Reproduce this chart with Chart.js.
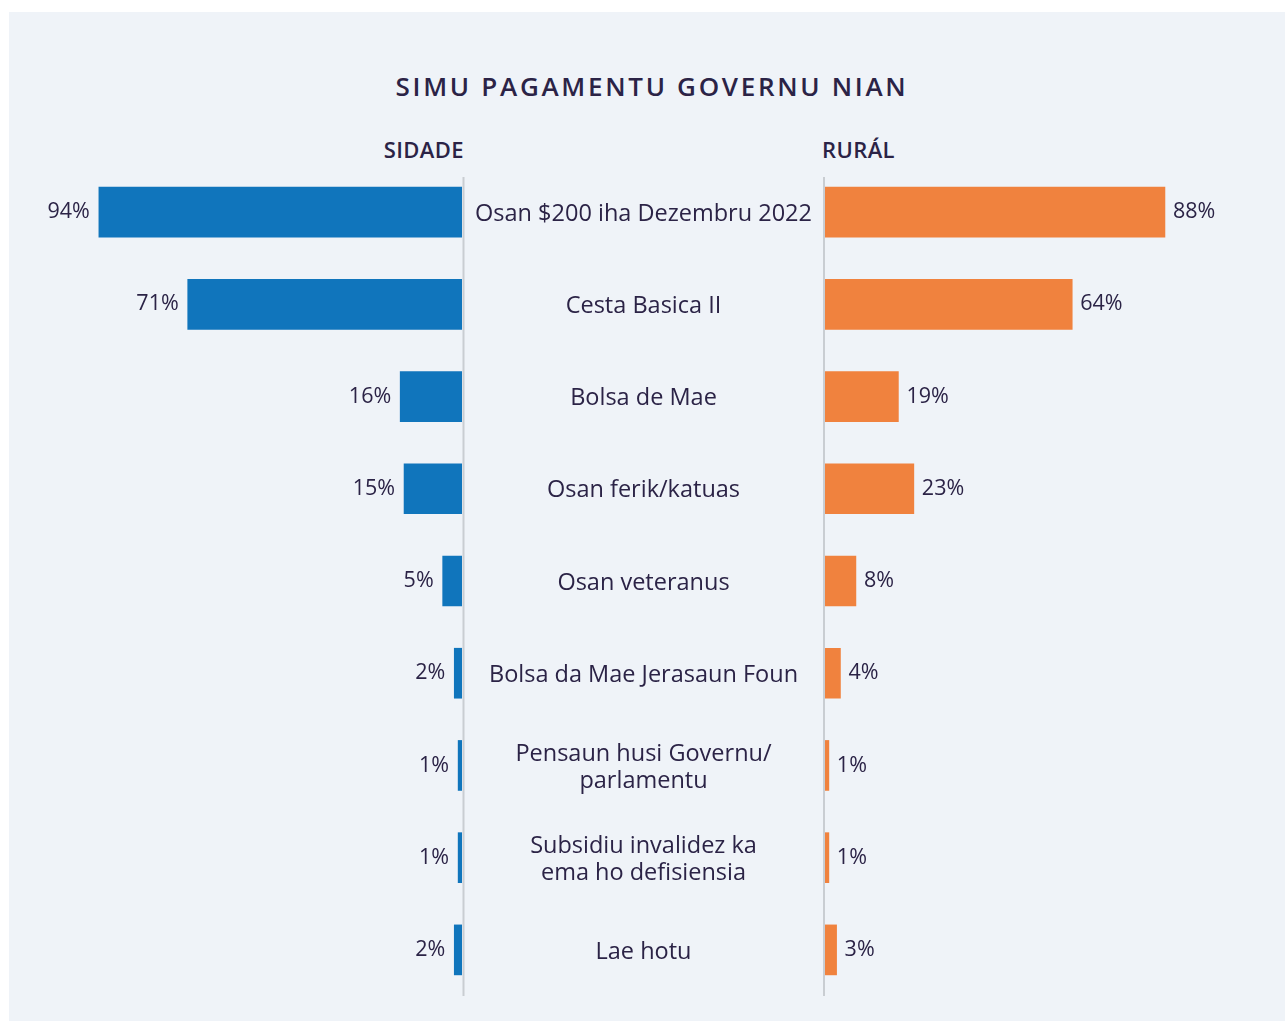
<!DOCTYPE html>
<html>
<head>
<meta charset="utf-8">
<script src="https://cdn.jsdelivr.net/npm/chart.js@4"></script>
<style>
  body { margin: 0; background: #ffffff; font-family: "Open Sans", sans-serif; color: #2b2346; }
  #page { position: relative; width: 1285px; height: 1024px; overflow: hidden; }
  #panel { position: absolute; left: 9px; top: 12px; width: 1276px; height: 1009px; background: #eff3f8; }
  .txt { position: absolute; white-space: nowrap; font-weight: 600; line-height: 1; }
  #title { left: 652px; top: 73px; transform: translateX(-50%); font-size: 26px; letter-spacing: 2.7px; }
  #hdrLeft { right: calc(1285px - 464px); top: 138px; font-size: 22px; letter-spacing: 0.4px; }
  #hdrRight { left: 822px; top: 138px; font-size: 22px; letter-spacing: 0.4px; }
  canvas { position: absolute; top: 0; }
  #leftChart { left: 0; }
  #rightChart { left: 823px; }
</style>
</head>
<body>
<div id="page">
  <div id="panel"></div>
  <div class="txt" id="title">SIMU PAGAMENTU GOVERNU NIAN</div>
  <div class="txt" id="hdrLeft">SIDADE</div>
  <div class="txt" id="hdrRight">RURÁL</div>
  <canvas id="leftChart" width="823" height="1024"></canvas>
  <canvas id="rightChart" width="462" height="1024"></canvas>
</div>
<script>
// kategoria pagamentu (label ho liña barak uza array)
const categories = [
  'Osan $200 iha Dezembru 2022',
  'Cesta Basica II',
  'Bolsa de Mae',
  'Osan ferik/katuas',
  'Osan veteranus',
  'Bolsa da Mae Jerasaun Foun',
  ['Pensaun husi Governu/', 'parlamentu'],
  ['Subsidiu invalidez ka', 'ema ho defisiensia'],
  'Lae hotu'
];
const sidadeValues = [94, 71, 16, 15, 5, 2, 1, 1, 2];
const ruralValues  = [88, 64, 19, 23, 8, 4, 1, 1, 3];

const textColor = '#2b2346';
const dividerColor = '#c9cdd2';
const pxPerPct = 3.863;
const fontFamily = '"Open Sans", sans-serif';

// persentajen iha bar nia rohan
const valueLabels = {
  id: 'valueLabels',
  afterDatasetsDraw(chart, args, opts) {
    const ctx = chart.ctx;
    const meta = chart.getDatasetMeta(0);
    const data = chart.data.datasets[0].data;
    ctx.save();
    ctx.font = '500 21.5px ' + fontFamily;
    ctx.fillStyle = textColor;
    ctx.textBaseline = 'middle';
    ctx.textAlign = opts.side === 'left' ? 'right' : 'left';
    meta.data.forEach((bar, i) => {
      const x = opts.side === 'left' ? bar.x - 9 : bar.x + 8;
      ctx.fillText(data[i] + '%', x, bar.y);
    });
    ctx.restore();
  }
};

// liña vertikal ho naran kategoria iha klaran
const centerLabels = {
  id: 'centerLabels',
  afterDraw(chart, args, opts) {
    const ctx = chart.ctx;
    const area = chart.chartArea;
    const yScale = chart.scales.y;
    const lineX = opts.side === 'left' ? area.right + 1.5 : area.left - 1;

    ctx.save();
    ctx.strokeStyle = dividerColor;
    ctx.lineWidth = 2;
    ctx.beginPath();
    ctx.moveTo(lineX, area.top + 11);
    ctx.lineTo(lineX, area.bottom);
    ctx.stroke();

    if (opts.side === 'left') {
      const cx = (area.right + chart.width + 2) / 2;
      const lineH = 27;
      ctx.font = '500 23.5px ' + fontFamily;
      ctx.fillStyle = textColor;
      ctx.textAlign = 'center';
      ctx.textBaseline = 'middle';
      chart.data.labels.forEach((label, i) => {
        const lines = Array.isArray(label) ? label : [label];
        const y0 = yScale.getPixelForTick(i) - (lines.length - 1) * lineH / 2;
        lines.forEach((ln, j) => ctx.fillText(ln, cx, y0 + j * lineH + 2));
      });
    }
    ctx.restore();
  }
};

function makeChart(canvasId, values, color, side) {
  const canvas = document.getElementById(canvasId);
  const isLeft = side === 'left';
  return new Chart(canvas, {
    type: 'bar',
    data: {
      labels: categories,
      datasets: [{
        data: values,
        backgroundColor: color,
        borderWidth: 0,
        barThickness: 50
      }]
    },
    options: {
      indexAxis: 'y',
      responsive: false,
      animation: false,
      layout: { padding: { top: 166, bottom: 28, left: isLeft ? 0 : 2, right: 0 } },
      scales: {
        x: {
          display: false,
          min: 0,
          max: isLeft ? 462 / pxPerPct : 460 / pxPerPct,
          reverse: isLeft
        },
        y: {
          position: isLeft ? 'right' : 'left',
          grid: { display: false },
          border: { display: false },
          ticks: { display: false },
          afterFit(scale) { scale.width = isLeft ? 361 : 0; }
        }
      },
      plugins: {
        legend: { display: false },
        tooltip: { enabled: false },
        valueLabels: { side: side },
        centerLabels: { side: side }
      }
    },
    plugins: [valueLabels, centerLabels]
  });
}

makeChart('leftChart', sidadeValues, '#1075bc', 'left');
makeChart('rightChart', ruralValues, '#f0823e', 'right');
</script>
</body>
</html>
